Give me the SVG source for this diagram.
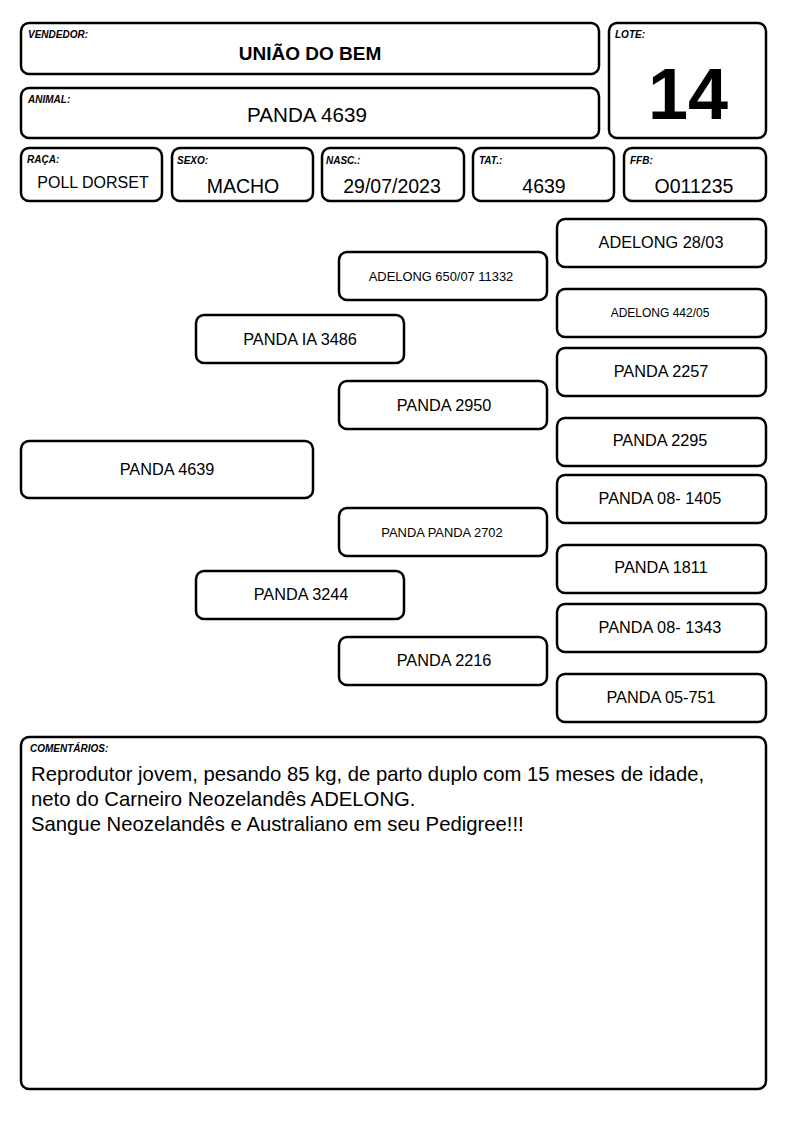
<svg xmlns="http://www.w3.org/2000/svg" width="794" height="1123" viewBox="0 0 794 1123">
<style>
.b{fill:#fff;stroke:#000;stroke-width:2.5}
.l{font-family:"Liberation Sans",Arial,sans-serif;font-size:10px;font-weight:bold;font-style:italic}
.t{font-family:"Liberation Sans",Arial,sans-serif;text-anchor:middle;fill:#000}
.f{font-size:19.5px}
.p{font-size:16.3px}
.s{font-size:12.9px}
.c{font-family:"Liberation Sans",Arial,sans-serif;font-size:20.3px}
</style>
<rect width="794" height="1123" fill="#fff"/>
<g id="vendedor"><rect class="b" x="21" y="23" width="578" height="51" rx="8"/><text class="l" x="28" y="38">VENDEDOR:</text><text class="t" x="310" y="60" font-size="19" font-weight="bold">UNIÃO DO BEM</text></g>
<g id="lote"><rect class="b" x="609" y="23" width="157" height="115" rx="8"/><text class="l" x="615" y="38">LOTE:</text><text class="t" x="688" y="119" font-size="72" font-weight="bold">14</text></g>
<g id="animal"><rect class="b" x="21" y="88" width="578" height="50" rx="8"/><text class="l" x="28" y="103">ANIMAL:</text><text class="t" x="307" y="122" font-size="20.6">PANDA 4639</text></g>
<g id="raca"><rect class="b" x="21" y="148" width="141" height="53" rx="8"/><text class="l" x="27" y="163">RAÇA:</text><text class="t" x="93" y="188" font-size="16">POLL DORSET</text></g>
<g id="sexo"><rect class="b" x="172" y="148" width="141" height="53" rx="8"/><text class="l" x="177" y="164">SEXO:</text><text class="t f" x="243" y="193">MACHO</text></g>
<g id="nasc"><rect class="b" x="322" y="148" width="142" height="53" rx="8"/><text class="l" x="326" y="164">NASC.:</text><text class="t f" x="392" y="193">29/07/2023</text></g>
<g id="tat"><rect class="b" x="473" y="148" width="141" height="53" rx="8"/><text class="l" x="479" y="164">TAT.:</text><text class="t f" x="544" y="193">4639</text></g>
<g id="ffb"><rect class="b" x="624" y="148" width="142" height="53" rx="8"/><text class="l" x="630" y="164">FFB:</text><text class="t f" x="694" y="193">O011235</text></g>
<g id="connectors"></g>
<g id="n1"><rect class="b" x="557" y="219" width="209" height="48" rx="8"/><text class="t p" x="661" y="248">ADELONG 28/03</text></g>
<g id="n2"><rect class="b" x="339" y="252" width="208" height="48" rx="8"/><text class="t s" x="441" y="281">ADELONG 650/07 11332</text></g>
<g id="n3"><rect class="b" x="557" y="289" width="209" height="48" rx="8"/><text class="t" x="660" y="317" font-size="12">ADELONG 442/05</text></g>
<g id="n4"><rect class="b" x="196" y="315" width="208" height="48" rx="8"/><text class="t p" x="300" y="345">PANDA IA 3486</text></g>
<g id="n5"><rect class="b" x="557" y="348" width="209" height="48" rx="8"/><text class="t p" x="661" y="377">PANDA 2257</text></g>
<g id="n6"><rect class="b" x="339" y="381" width="208" height="48" rx="8"/><text class="t p" x="444" y="411">PANDA 2950</text></g>
<g id="n7"><rect class="b" x="557" y="418" width="209" height="48" rx="8"/><text class="t p" x="660" y="446">PANDA 2295</text></g>
<g id="n8"><rect class="b" x="21" y="441" width="292" height="57" rx="8"/><text class="t p" x="167" y="475">PANDA 4639</text></g>
<g id="n9"><rect class="b" x="557" y="475" width="209" height="48" rx="8"/><text class="t p" x="660" y="504">PANDA 08- 1405</text></g>
<g id="n10"><rect class="b" x="339" y="508" width="208" height="48" rx="8"/><text class="t s" x="442" y="537">PANDA PANDA 2702</text></g>
<g id="n11"><rect class="b" x="557" y="545" width="209" height="48" rx="8"/><text class="t p" x="661" y="573">PANDA 1811</text></g>
<g id="n12"><rect class="b" x="196" y="571" width="208" height="48" rx="8"/><text class="t p" x="301" y="600">PANDA 3244</text></g>
<g id="n13"><rect class="b" x="557" y="604" width="209" height="48" rx="8"/><text class="t p" x="660" y="633">PANDA 08- 1343</text></g>
<g id="n14"><rect class="b" x="339" y="637" width="208" height="48" rx="8"/><text class="t p" x="444" y="666">PANDA 2216</text></g>
<g id="n15"><rect class="b" x="557" y="674" width="209" height="48" rx="8"/><text class="t p" x="661" y="703">PANDA 05-751</text></g>
<g id="comentarios"><rect class="b" x="21" y="737" width="745" height="352" rx="8"/><text class="l" x="30" y="752">COMENTÁRIOS:</text>
<text class="c" x="31" y="781">Reprodutor jovem, pesando 85 kg, de parto duplo com 15 meses de idade,</text>
<text class="c" x="31" y="806">neto do Carneiro Neozelandês ADELONG.</text>
<text class="c" x="31" y="831">Sangue Neozelandês e Australiano em seu Pedigree!!!</text></g>
</svg>
